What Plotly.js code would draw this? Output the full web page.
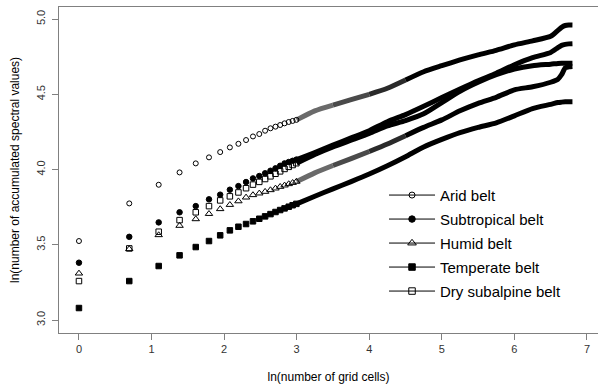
<!DOCTYPE html>
<html><head><meta charset="utf-8">
<script src="https://cdn.plot.ly/plotly-3.0.1.min.js"></script>
<style>html,body{margin:0;padding:0;background:#fff}#chart{width:598px;height:387px}</style>
</head><body><div id="chart"></div>
<script>
// Number of grid cells for the individually visible points (x = ln(n))
const gridCells = [1,2,3,4,5,6,7,8,9,10,11,12,13,14,15,16,17,18,19,20];
// ln(number of accumulated spectral values) for those points
const aridFirst       = [3.525,3.775,3.899,3.981,4.041,4.081,4.116,4.147,4.171,4.196,4.220,4.236,4.258,4.274,4.285,4.296,4.307,4.316,4.323,4.330];
const subtropicalFirst= [3.381,3.553,3.649,3.716,3.757,3.802,3.833,3.866,3.890,3.917,3.941,3.957,3.975,3.992,4.008,4.025,4.041,4.050,4.058,4.066];
const humidFirst      = [3.310,3.472,3.565,3.627,3.671,3.706,3.738,3.766,3.790,3.815,3.831,3.842,3.853,3.864,3.875,3.886,3.895,3.904,3.912,3.920];
const temperateFirst  = [3.080,3.259,3.359,3.430,3.485,3.525,3.563,3.596,3.620,3.638,3.656,3.673,3.689,3.704,3.718,3.731,3.742,3.753,3.763,3.772];
const drySubFirst     = [3.259,3.476,3.587,3.664,3.716,3.757,3.795,3.822,3.848,3.876,3.900,3.918,3.937,3.955,3.972,3.988,4.004,4.018,4.030,4.042];

// Dense part (points merge into a band): read at these ln(grid cells) positions
const denseX = [3.0,3.25,3.5,3.75,4.0,4.25,4.5,4.75,5.0,5.25,5.5,5.75,6.0,6.25,6.5,6.6,6.65,6.7,6.75,6.8];
const aridDense       = [4.330,4.390,4.428,4.464,4.500,4.540,4.595,4.650,4.690,4.728,4.762,4.792,4.828,4.855,4.885,4.925,4.945,4.957,4.960,4.960];
const subtropicalDense= [4.066,4.113,4.163,4.210,4.258,4.318,4.365,4.420,4.478,4.535,4.590,4.640,4.696,4.743,4.778,4.810,4.825,4.832,4.835,4.836];
const humidDense      = [3.920,3.978,4.027,4.073,4.120,4.170,4.225,4.280,4.330,4.390,4.440,4.480,4.530,4.550,4.580,4.600,4.630,4.675,4.683,4.685];
const temperateDense  = [3.772,3.823,3.872,3.920,3.970,4.025,4.085,4.150,4.200,4.245,4.280,4.310,4.357,4.405,4.433,4.445,4.448,4.450,4.450,4.450];
const drySubDense     = [4.042,4.100,4.150,4.195,4.240,4.290,4.325,4.370,4.445,4.520,4.580,4.630,4.668,4.690,4.700,4.705,4.706,4.706,4.706,4.706];

const seriesNames = ["Arid belt","Subtropical belt","Humid belt","Temperate belt","Dry subalpine belt"];
const symbols = ["circle-open","circle","triangle-up-open","square","square-open"];
const sizes = [5,5.5,6.5,5.5,5.5];
const firsts = [aridFirst,subtropicalFirst,humidFirst,temperateFirst,drySubFirst];
const denses = [aridDense,subtropicalDense,humidDense,temperateDense,drySubDense];
// open-symbol bands look grey where the rings still overlap loosely
const openBand = [true,false,true,false,false];
const bandSplits = [3.0, 3.5, 4.0, 4.5, 6.8];
const bandColors = ['#6a6a6a', '#4a4a4a', '#2a2a2a', '#000'];

const lnCells = gridCells.map(n => Math.log(n));
const traces = [];
denses.forEach((d,i) => {
  if (openBand[i]) {
    for (let s = 0; s < bandColors.length; s++) {
      const a = denseX.indexOf(bandSplits[s]), b = denseX.indexOf(bandSplits[s+1]);
      traces.push({x: denseX.slice(a,b+1), y: d.slice(a,b+1), mode: 'lines', type: 'scatter', showlegend: false, hoverinfo: 'skip',
        line: {color: bandColors[s], width: 5, shape: 'spline', smoothing: 0.6}});
    }
  } else {
    traces.push({x: denseX, y: d, mode: 'lines', type: 'scatter', showlegend: false, hoverinfo: 'skip',
      line: {color: '#000', width: 5, shape: 'spline', smoothing: 0.6}});
  }
});
firsts.forEach((f,i) => {
  traces.push({x: lnCells, y: f, mode: 'markers', type: 'scatter', showlegend: false,
    marker: {symbol: symbols[i], size: sizes[i], color: '#000', line: {color: '#000', width: 1}}});
});
// legend entries
seriesNames.forEach((nm,i) => {
  traces.push({x: [null], y: [null], mode: 'lines+markers', type: 'scatter', name: nm, showlegend: true,
    legendgroup: 'g' + i,
    line: {color: '#000', width: 1},
    marker: {symbol: symbols[i], size: sizes[i]+1, color: '#000', line: {color: '#000', width: 1}}});
});

const layout = {
  width: 598, height: 387,
  margin: {l: 59, r: 0, t: 7, b: 54},
  paper_bgcolor: '#fff', plot_bgcolor: '#fff',
  font: {family: 'Liberation Sans, Arial, sans-serif', color: '#000'},
  showlegend: true,
  legend: {x: 0.603, y: 0.473, xanchor: 'left', yanchor: 'top', bgcolor: 'rgba(0,0,0,0)',
    font: {size: 15, color: '#000'}, itemwidth: 46, traceorder: 'grouped', tracegroupgap: 1.5},
  xaxis: {range: [-0.275, 7.152], showgrid: false, zeroline: false,
    showline: true, mirror: true, linecolor: '#808080', linewidth: 1,
    ticks: 'outside', ticklen: 6, tickcolor: '#808080', tickvals: [0,1,2,3,4,5,6,7],
    tickfont: {size: 11, color: '#333'},
    title: {text: 'ln(number of grid cells)', font: {size: 12, color: '#000'}, standoff: 18}},
  yaxis: {range: [2.914, 5.08], showgrid: false, zeroline: false,
    showline: true, linecolor: '#808080', linewidth: 1,
    ticks: 'outside', ticklen: 6, tickcolor: '#808080', tickvals: [3.0,3.5,4.0,4.5,5.0], tickformat: '.1f',
    tickangle: -90, tickfont: {size: 11, color: '#333'}, ticklabelstandoff: 3,
    title: {text: 'ln(number of accumulated spectral values)', font: {size: 12, color: '#000'}, standoff: 12}}
};
Plotly.newPlot('chart', traces, layout, {displayModeBar: false, staticPlot: true});
</script></body></html>
